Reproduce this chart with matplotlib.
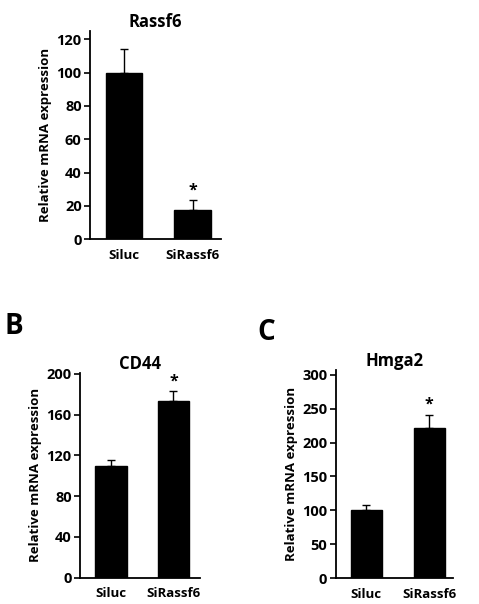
import matplotlib
matplotlib.use("Agg")
import matplotlib.pyplot as plt

plt.rcParams['font.family'] = ['Open Sans', 'DejaVu Sans']
plt.rcParams['font.weight'] = 'bold'

categories = ["Siluc", "SiRassf6"]

rassf6_values = [100, 17.5]
rassf6_err = [14, 6]
rassf6_ticks = [0, 20, 40, 60, 80, 100, 120]

cd44_values = [110, 173]
cd44_err = [5, 10]
cd44_ticks = [0, 40, 80, 120, 160, 200]

hmga2_values = [100, 221]
hmga2_err = [8, 20]
hmga2_ticks = [0, 50, 100, 150, 200, 250, 300]

significant = [False, True]

fig = plt.figure(figsize=(4.79, 6.04), dpi=100)

panels = [
    ([0.1879, 0.6038, 0.2735, 0.3449], "Rassf6", rassf6_values, rassf6_err, rassf6_ticks, (-0.496, 1.416), (0, 125), 0.53),
    ([0.1670, 0.0435, 0.2505, 0.3394], "CD44", cd44_values, cd44_err, cd44_ticks, (-0.496, 1.424), (0, 201), 0.50),
    ([0.7008, 0.0430, 0.2449, 0.3444], "Hmga2", hmga2_values, hmga2_err, hmga2_ticks, (-0.486, 1.376), (0, 307), 0.50),
]

for rect, title, vals, errs, ticks, xl, yl, w in panels:
    ax = fig.add_axes(rect)
    x = list(range(len(categories)))
    ax.bar(x, vals, width=w, color='black', edgecolor='black')
    ax.errorbar(x, vals, yerr=[[0]*len(errs), errs], fmt='none', ecolor='black',
                elinewidth=1.0, capsize=3, capthick=1.0)
    for xi, v, e, s in zip(x, vals, errs, significant):
        if s:
            ax.text(xi, v + e + yl[1]*0.008, "*", ha='center', va='bottom',
                    fontsize=11.5, fontweight='bold')
    ax.set_xlim(*xl)
    ax.set_ylim(*yl)
    ax.set_yticks(ticks)
    ax.set_xticks(x)
    ax.set_xticklabels(categories, fontsize=9.5, fontweight='bold')
    ax.tick_params(axis='x', length=0, pad=7)
    ax.tick_params(axis='y', length=4, width=1.2, labelsize=10.5, pad=2)
    for lab in ax.get_yticklabels():
        lab.set_fontweight('bold')
    for sp in ['top', 'right']:
        ax.spines[sp].set_visible(False)
    for sp in ['left', 'bottom']:
        ax.spines[sp].set_linewidth(1.3)
    ax.set_ylabel("Relative mRNA expression", fontsize=9.5, fontweight='bold', labelpad=3)
    ax.set_title(title, fontsize=12, fontweight='bold', pad=2)

fig.text(0.010, 1 - 326/604, "B", fontsize=20, fontweight='bold', va='center', ha='left')
fig.text(0.537, 1 - 332/604, "C", fontsize=20, fontweight='bold', va='center', ha='left')

fig.savefig("out.png", dpi=100)
